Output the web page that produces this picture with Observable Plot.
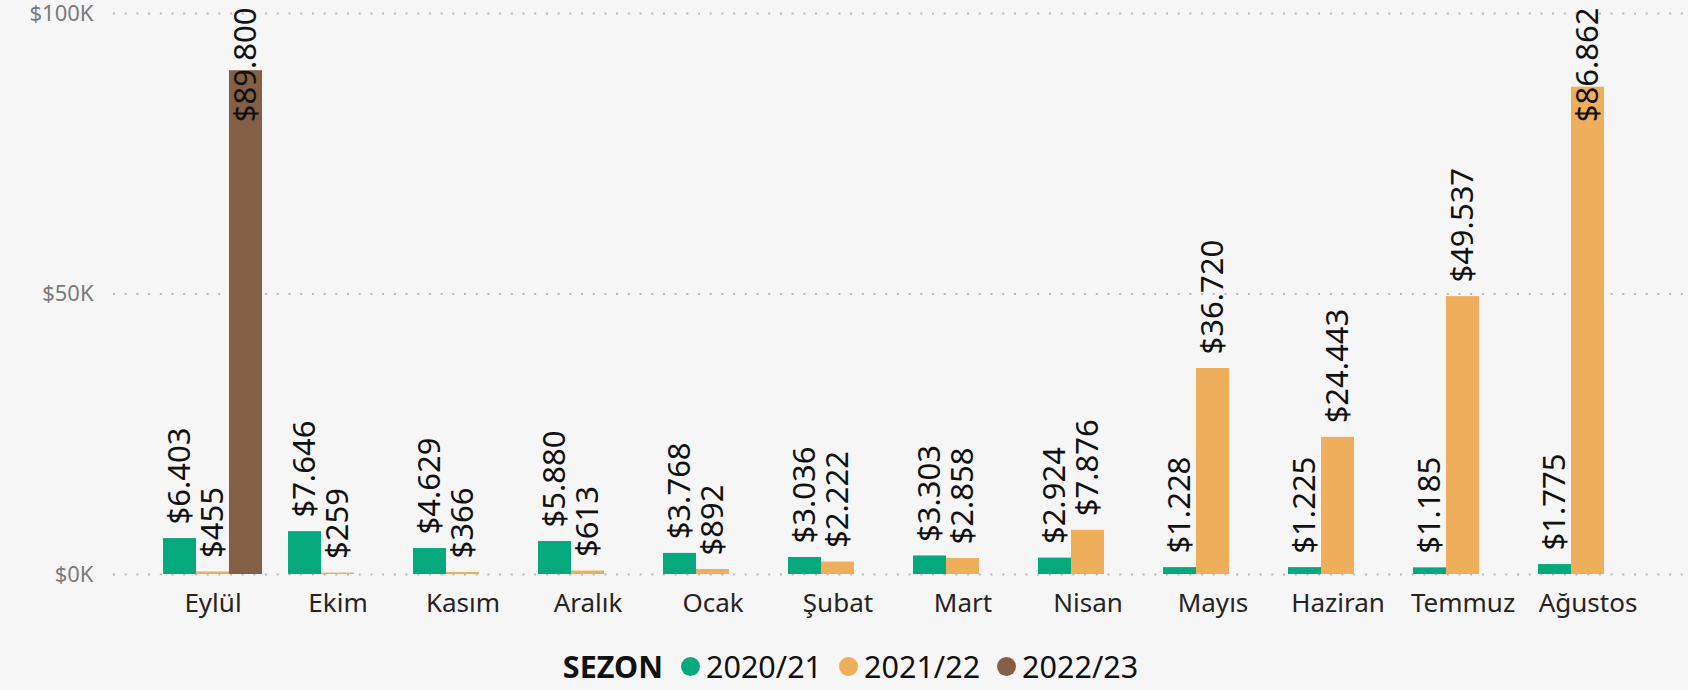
<!DOCTYPE html>
<html>
<head>
<meta charset="utf-8">
<script src="https://cdn.jsdelivr.net/npm/d3@7"></script>
<script src="https://cdn.jsdelivr.net/npm/@observablehq/plot@0.6"></script>
<style>
  html, body { margin: 0; padding: 0; }
  body { width: 1688px; height: 690px; background: #f6f6f7; overflow: hidden;
         font-family: "Segoe UI", "Noto Sans", "Open Sans", sans-serif; }
  #legend { display: flex; align-items: center; justify-content: center; height: 40px;
            margin-top: 26px; padding-left: 30px; font-size: 30.5px; color: #111; }
  #legend .title { font-weight: 700; margin-right: 18px; }
  #legend .item { display: flex; align-items: center; margin-right: 17px; }
  #legend .dot { width: 19px; height: 19px; border-radius: 50%; margin-right: 6px; }
</style>
</head>
<body>
<div id="chart"></div>
<div id="legend"></div>
<script>
// ---- data ----
const months = ["Eylül", "Ekim", "Kasım", "Aralık", "Ocak", "Şubat", "Mart", "Nisan", "Mayıs", "Haziran", "Temmuz", "Ağustos"];
const seasons = ["2020/21", "2021/22", "2022/23"];
const season2020 = [6403, 7646, 4629, 5880, 3768, 3036, 3303, 2924, 1228, 1225, 1185, 1775];
const season2021 = [455, 259, 366, 613, 892, 2222, 2858, 7876, 36720, 24443, 49537, 86862];
const season2022 = [89800, null, null, null, null, null, null, null, null, null, null, null];
const seasonColors = ["#05a97c", "#efae5c", "#835f45"];
const yTicks = [0, 50000, 100000];
const yTickLabels = ["$0K", "$50K", "$100K"];
const legendTitle = "SEZON";

// ---- build table ----
const seriesValues = [season2020, season2021, season2022];
const rows = [];
seriesValues.forEach((vals, s) => {
  vals.forEach((v, i) => {
    if (v != null) rows.push({month: months[i], season: seasons[s], value: v});
  });
});

const trLocale = d3.formatLocale({decimal: ",", thousands: ".", grouping: [3], currency: ["$", ""]});
const fmt = trLocale.format("$,.0f");
const font = "'Segoe UI', 'Noto Sans', 'Open Sans', sans-serif";
const yMax = yTicks[yTicks.length - 1];
const clampAt = 80000; // labels of taller bars are pinned to the top of the plot

// per-series slot within each month band (bandwidth split into thirds)
const slot = 33;
const offsets = [-slot, 0, slot];
const insets = [[0, 2 * slot], [slot, slot], [2 * slot, 0]];

const marks = [
  Plot.gridY(yTicks, {stroke: "#b9b9b9", strokeOpacity: 1, strokeWidth: 2, strokeDasharray: "2,9.7"}),
  Plot.axisY(yTicks, {tickSize: 0, tickPadding: 20, fontSize: 22, fill: "#7a7a7a",
    tickFormat: d => yTickLabels[yTicks.indexOf(d)]}),
  Plot.axisX({tickSize: 0, tickPadding: 19, fontSize: 26, fill: "#252423", label: null})
];

seasons.forEach((s, k) => {
  const data = rows.filter(r => r.season === s);
  marks.push(Plot.barY(data, {
    x: "month", y: "value", fill: seasonColors[k],
    insetLeft: insets[k][0], insetRight: insets[k][1]
  }));
});
seasons.forEach((s, k) => {
  const data = rows.filter(r => r.season === s);
  marks.push(Plot.text(data.filter(r => r.value < clampAt), {
    x: "month", y: "value", text: d => fmt(d.value), rotate: -90,
    textAnchor: "start", dx: offsets[k], dy: -14, fontSize: 31, fill: "#111"
  }));
  marks.push(Plot.text(data.filter(r => r.value >= clampAt), {
    x: "month", y: () => yMax, text: d => fmt(d.value), rotate: -90,
    textAnchor: "end", dx: offsets[k], dy: -6, fontSize: 31, fill: "#111"
  }));
});

const chart = Plot.plot({
  width: 1688,
  height: 620,
  marginTop: 13,
  marginBottom: 46,
  marginLeft: 113,
  marginRight: 1,
  style: {background: "transparent", fontFamily: font, overflow: "visible"},
  x: {type: "band", domain: months, paddingInner: 0.208, paddingOuter: 0.4, align: 0.5, label: null},
  y: {domain: [0, yMax], label: null},
  marks
});
document.getElementById("chart").appendChild(chart);

// ---- legend ----
const legend = document.getElementById("legend");
const t = document.createElement("span");
t.className = "title";
t.textContent = legendTitle;
legend.appendChild(t);
seasons.forEach((s, k) => {
  const item = document.createElement("span");
  item.className = "item";
  const dot = document.createElement("span");
  dot.className = "dot";
  dot.style.background = seasonColors[k];
  const lab = document.createElement("span");
  lab.textContent = s;
  item.appendChild(dot);
  item.appendChild(lab);
  legend.appendChild(item);
});
</script>
</body>
</html>
